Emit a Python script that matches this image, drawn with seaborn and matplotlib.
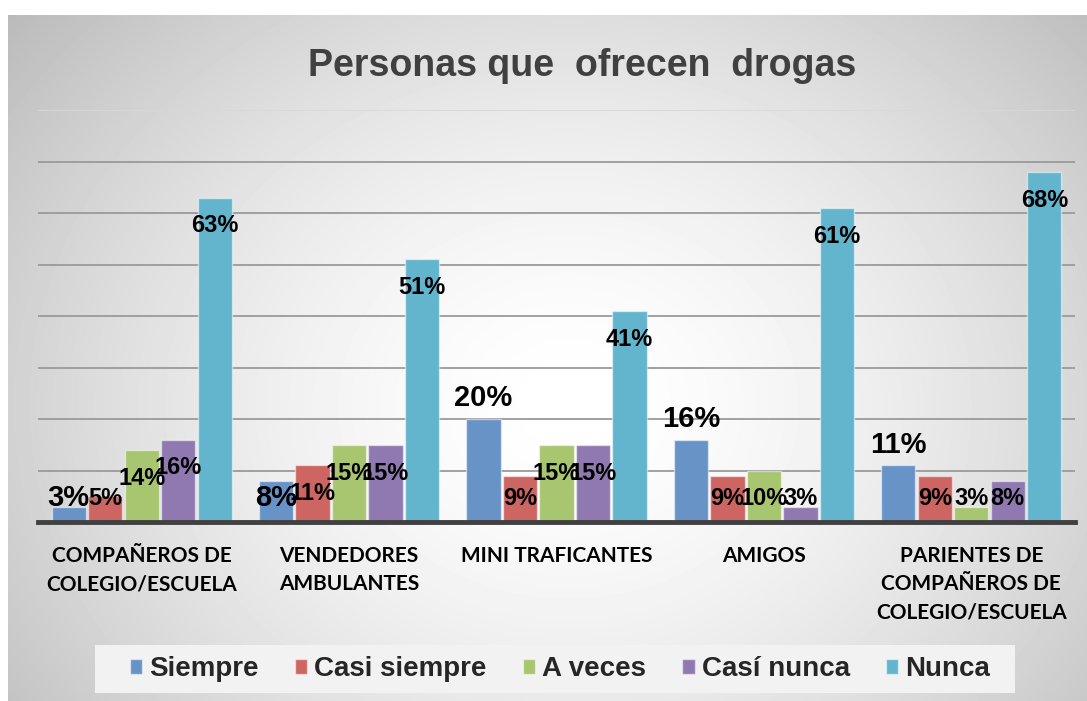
import numpy as np
import pandas as pd
import seaborn as sns
import matplotlib.pyplot as plt
from matplotlib.patches import Rectangle

# datos del gráfico
categorias = ["COMPAÑEROS DE\nCOLEGIO/ESCUELA", "VENDEDORES\nAMBULANTES", "MINI TRAFICANTES",
              "AMIGOS", "PARIENTES DE\nCOMPAÑEROS DE\nCOLEGIO/ESCUELA"]
series = ["Siempre", "Casi siempre", "A veces", "Casí nunca", "Nunca"]
siempre = [3, 8, 20, 16, 11]
casi_siempre = [5, 11, 9, 9, 9]
a_veces = [14, 15, 15, 10, 3]
casi_nunca = [16, 15, 15, 3, 8]
nunca = [63, 51, 41, 61, 68]
colores = ["#6893c7", "#cd6663", "#a8c56f", "#9079b0", "#62b5cc"]

valores = [siempre, casi_siempre, a_veces, casi_nunca, nunca]
df = pd.DataFrame({
    "categoria": categorias * len(series),
    "serie": np.repeat(series, len(categorias)),
    "valor": np.concatenate(valores),
})

sns.set_style("white")
plt.rcParams["font.family"] = ["Liberation Sans", "DejaVu Sans"]

fig = plt.figure(figsize=(10.87, 7.01), dpi=100)

# fondo con degradado radial
bg = fig.add_axes([8 / 1087, 0, 1 - 8 / 1087, 686 / 701], zorder=-10)
h, w = 686, 1079
yy, xx = np.mgrid[0:h, 0:w]
r = np.sqrt(((xx - 560) / 620) ** 2 + ((yy - 390) / 520) ** 2)
fondo = 1 - 0.21 * np.clip(r, 0, 1.2) ** 1.6
bg.imshow(fondo, cmap="gray", vmin=0, vmax=1, aspect="auto", interpolation="bilinear")
bg.axis("off")

ax = fig.add_axes([38 / 1087, 179 / 701, 1037 / 1087, 412 / 701])
ax.patch.set_alpha(0)

sns.barplot(data=df, x="categoria", y="valor", hue="serie", order=categorias,
            hue_order=series, palette=colores, width=0.88, gap=0.06,
            edgecolor=(1, 1, 1, 0.5), linewidth=1, saturation=1, ax=ax)

ax.set_ylim(0, 80)
ax.set_yticks(range(0, 71, 10))
ax.yaxis.grid(True, color="#9a9a9a", lw=1.3)
ax.axhline(80, color="#d8d8d8", lw=1.2, zorder=0)
ax.set_axisbelow(True)
ax.tick_params(left=False, labelleft=False, bottom=False, pad=14)
ax.set_xlabel("")
ax.set_ylabel("")
for s in ["top", "left", "right"]:
    ax.spines[s].set_visible(False)
ax.spines["bottom"].set_color("#404040")
ax.spines["bottom"].set_linewidth(3.5)
ax.set_xticks(range(len(categorias)))
ax.set_xticklabels(categorias, fontsize=15, fontweight="bold", family="Lato",
                   linespacing=1.5, color="black")

# etiquetas de datos
for i, cont in enumerate(ax.containers):
    for bar, v in zip(cont, valores[i]):
        x = bar.get_x() + bar.get_width() / 2
        if i == 0 and v >= 10:
            y = v + 4
        else:
            y = max(v - 5.5, 4.6)
        size = 21 if i == 0 else 17
        ax.text(x, y, f"{v}%", ha="center", va="center", fontsize=size,
                fontweight="bold", color="black")

# leyenda sobre un recuadro claro
fig.patches.append(Rectangle((95 / 1087, 1 - 693 / 701), 920 / 1087, 48 / 701,
                             transform=fig.transFigure, facecolor="#f2f2f2",
                             edgecolor="none", zorder=1))
handles, labels = ax.get_legend_handles_labels()
ax.get_legend().remove()
leg = fig.legend(handles, labels, loc="center", bbox_to_anchor=(560 / 1087, 1 - 669 / 701),
                 ncol=5, prop=dict(family="Liberation Sans", weight="bold", size=20),
                 frameon=False, handlelength=0.45, handleheight=0.45, handletextpad=0.25,
                 columnspacing=1.3)
leg.set_zorder(2)

fig.text(582 / 1087, 1 - 66 / 701, "Personas que  ofrecen  drogas", fontsize=27,
         fontweight="bold", color="#404040", ha="center", va="center")

fig.savefig("out.png", dpi=100)
